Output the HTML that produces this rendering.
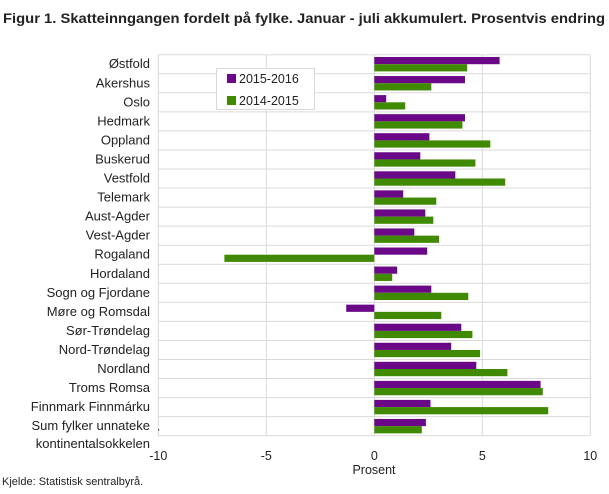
<!DOCTYPE html>
<html><head><meta charset="utf-8"><style>
body{margin:0;background:#fff}
svg text{font-family:"Liberation Sans",sans-serif;fill:#222}
.p{fill:#6a0888}.g{fill:#3f8a00}
.l{font-size:13px;text-anchor:end}
</style></head><body>
<svg width="609" height="489" xmlns="http://www.w3.org/2000/svg">
<text x="3" y="23" font-size="14" font-weight="bold" textLength="602" lengthAdjust="spacingAndGlyphs">Figur 1. Skatteinngangen fordelt på fylke. Januar - juli akkumulert. Prosentvis endring</text>
<g stroke="#d9d9d9" stroke-width="1">
<line x1="158" x2="590" y1="54.7" y2="54.7"/><line x1="158" x2="590" y1="73.75" y2="73.75"/><line x1="158" x2="590" y1="92.8" y2="92.8"/><line x1="158" x2="590" y1="111.85" y2="111.85"/><line x1="158" x2="590" y1="130.9" y2="130.9"/><line x1="158" x2="590" y1="149.95" y2="149.95"/><line x1="158" x2="590" y1="169" y2="169"/><line x1="158" x2="590" y1="188.05" y2="188.05"/><line x1="158" x2="590" y1="207.1" y2="207.1"/><line x1="158" x2="590" y1="226.15" y2="226.15"/><line x1="158" x2="590" y1="245.2" y2="245.2"/><line x1="158" x2="590" y1="264.25" y2="264.25"/><line x1="158" x2="590" y1="283.3" y2="283.3"/><line x1="158" x2="590" y1="302.35" y2="302.35"/><line x1="158" x2="590" y1="321.4" y2="321.4"/><line x1="158" x2="590" y1="340.45" y2="340.45"/><line x1="158" x2="590" y1="359.5" y2="359.5"/><line x1="158" x2="590" y1="378.55" y2="378.55"/><line x1="158" x2="590" y1="397.6" y2="397.6"/><line x1="158" x2="590" y1="416.65" y2="416.65"/><line x1="158" x2="590" y1="435.7" y2="435.7"/>
<line x1="158.3" x2="158.3" y1="54.7" y2="435.7"/><line x1="266.3" x2="266.3" y1="54.7" y2="435.7"/><line x1="374.3" x2="374.3" y1="54.7" y2="435.7"/><line x1="482.3" x2="482.3" y1="54.7" y2="435.7"/><line x1="590.3" x2="590.3" y1="54.7" y2="435.7"/>
</g>
<g font-size="12.5" text-anchor="middle">
<text x="158.3" y="460">-10</text><text x="266.3" y="460">-5</text><text x="374.3" y="460">0</text><text x="482.3" y="460">5</text><text x="590.3" y="460">10</text>
</g>
<g transform="translate(0,54.7)"><rect class="p" x="374.3" y="2.3" width="125.3" height="7.2"/><rect class="g" x="374.3" y="9.5" width="92.9" height="7.2"/><text class="l" x="150" y="13.5">Østfold</text></g>
<g transform="translate(0,73.75)"><rect class="p" x="374.3" y="2.3" width="90.7" height="7.2"/><rect class="g" x="374.3" y="9.5" width="57" height="7.2"/><text class="l" x="150" y="13.5">Akershus</text></g>
<g transform="translate(0,92.8)"><rect class="p" x="374.3" y="2.3" width="11.9" height="7.2"/><rect class="g" x="374.3" y="9.5" width="30.9" height="7.2"/><text class="l" x="150" y="13.5">Oslo</text></g>
<g transform="translate(0,111.85)"><rect class="p" x="374.3" y="2.3" width="90.7" height="7.2"/><rect class="g" x="374.3" y="9.5" width="88.1" height="7.2"/><text class="l" x="150" y="13.5">Hedmark</text></g>
<g transform="translate(0,130.9)"><rect class="p" x="374.3" y="2.3" width="55.1" height="7.2"/><rect class="g" x="374.3" y="9.5" width="116" height="7.2"/><text class="l" x="150" y="13.5">Oppland</text></g>
<g transform="translate(0,149.95)"><rect class="p" x="374.3" y="2.3" width="46" height="7.2"/><rect class="g" x="374.3" y="9.5" width="101.1" height="7.2"/><text class="l" x="150" y="13.5">Buskerud</text></g>
<g transform="translate(0,169)"><rect class="p" x="374.3" y="2.3" width="81" height="7.2"/><rect class="g" x="374.3" y="9.5" width="130.9" height="7.2"/><text class="l" x="150" y="13.5">Vestfold</text></g>
<g transform="translate(0,188.05)"><rect class="p" x="374.3" y="2.3" width="28.9" height="7.2"/><rect class="g" x="374.3" y="9.5" width="62" height="7.2"/><text class="l" x="150" y="13.5">Telemark</text></g>
<g transform="translate(0,207.1)"><rect class="p" x="374.3" y="2.3" width="51" height="7.2"/><rect class="g" x="374.3" y="9.5" width="59" height="7.2"/><text class="l" x="150" y="13.5">Aust-Agder</text></g>
<g transform="translate(0,226.15)"><rect class="p" x="374.3" y="2.3" width="40" height="7.2"/><rect class="g" x="374.3" y="9.5" width="64.8" height="7.2"/><text class="l" x="150" y="13.5">Vest-Agder</text></g>
<g transform="translate(0,245.2)"><rect class="p" x="374.3" y="2.3" width="52.9" height="7.2"/><rect class="g" x="224.4" y="9.5" width="149.9" height="7.2"/><text class="l" x="150" y="13.5">Rogaland</text></g>
<g transform="translate(0,264.25)"><rect class="p" x="374.3" y="2.3" width="22.9" height="7.2"/><rect class="g" x="374.3" y="9.5" width="17.9" height="7.2"/><text class="l" x="150" y="13.5">Hordaland</text></g>
<g transform="translate(0,283.3)"><rect class="p" x="374.3" y="2.3" width="57" height="7.2"/><rect class="g" x="374.3" y="9.5" width="94" height="7.2"/><text class="l" x="150" y="13.5">Sogn og Fjordane</text></g>
<g transform="translate(0,302.35)"><rect class="p" x="346.2" y="2.3" width="28.1" height="7.2"/><rect class="g" x="374.3" y="9.5" width="67" height="7.2"/><text class="l" x="150" y="13.5">Møre og Romsdal</text></g>
<g transform="translate(0,321.4)"><rect class="p" x="374.3" y="2.3" width="87" height="7.2"/><rect class="g" x="374.3" y="9.5" width="98.1" height="7.2"/><text class="l" x="150" y="13.5">Sør-Trøndelag</text></g>
<g transform="translate(0,340.45)"><rect class="p" x="374.3" y="2.3" width="76.9" height="7.2"/><rect class="g" x="374.3" y="9.5" width="105.8" height="7.2"/><text class="l" x="150" y="13.5">Nord-Trøndelag</text></g>
<g transform="translate(0,359.5)"><rect class="p" x="374.3" y="2.3" width="102" height="7.2"/><rect class="g" x="374.3" y="9.5" width="133.1" height="7.2"/><text class="l" x="150" y="13.5">Nordland</text></g>
<g transform="translate(0,378.55)"><rect class="p" x="374.3" y="2.3" width="166.3" height="7.2"/><rect class="g" x="374.3" y="9.5" width="168.5" height="7.2"/><text class="l" x="150" y="13.5">Troms Romsa</text></g>
<g transform="translate(0,397.6)"><rect class="p" x="374.3" y="2.3" width="56.2" height="7.2"/><rect class="g" x="374.3" y="9.5" width="173.9" height="7.2"/><text class="l" x="150" y="13.5">Finnmark Finnmárku</text></g>
<g transform="translate(0,416.65)"><rect class="p" x="374.3" y="2.3" width="51.6" height="7.2"/><rect class="g" x="374.3" y="9.5" width="47.5" height="7.2"/><text class="l" x="150" y="13.5">Sum fylker unnateke</text><text x="157" y="14" font-size="12">.</text></g>
<text class="l" x="150" y="448">kontinentalsokkelen</text>
<text x="374" y="474" font-size="12.5" text-anchor="middle">Prosent</text>
<text x="2" y="485" font-size="11">Kjelde: Statistisk sentralbyrå.</text>
<rect x="216.5" y="68.5" width="98" height="41" fill="#fff" stroke="#d9d9d9"/>
<rect x="227" y="74" width="9" height="9" fill="#6a0888"/>
<text x="239" y="83" font-size="12.5">2015-2016</text>
<rect x="227" y="96" width="9" height="9" fill="#3f8a00"/>
<text x="239" y="105" font-size="12.5">2014-2015</text>
</svg>
</body></html>
